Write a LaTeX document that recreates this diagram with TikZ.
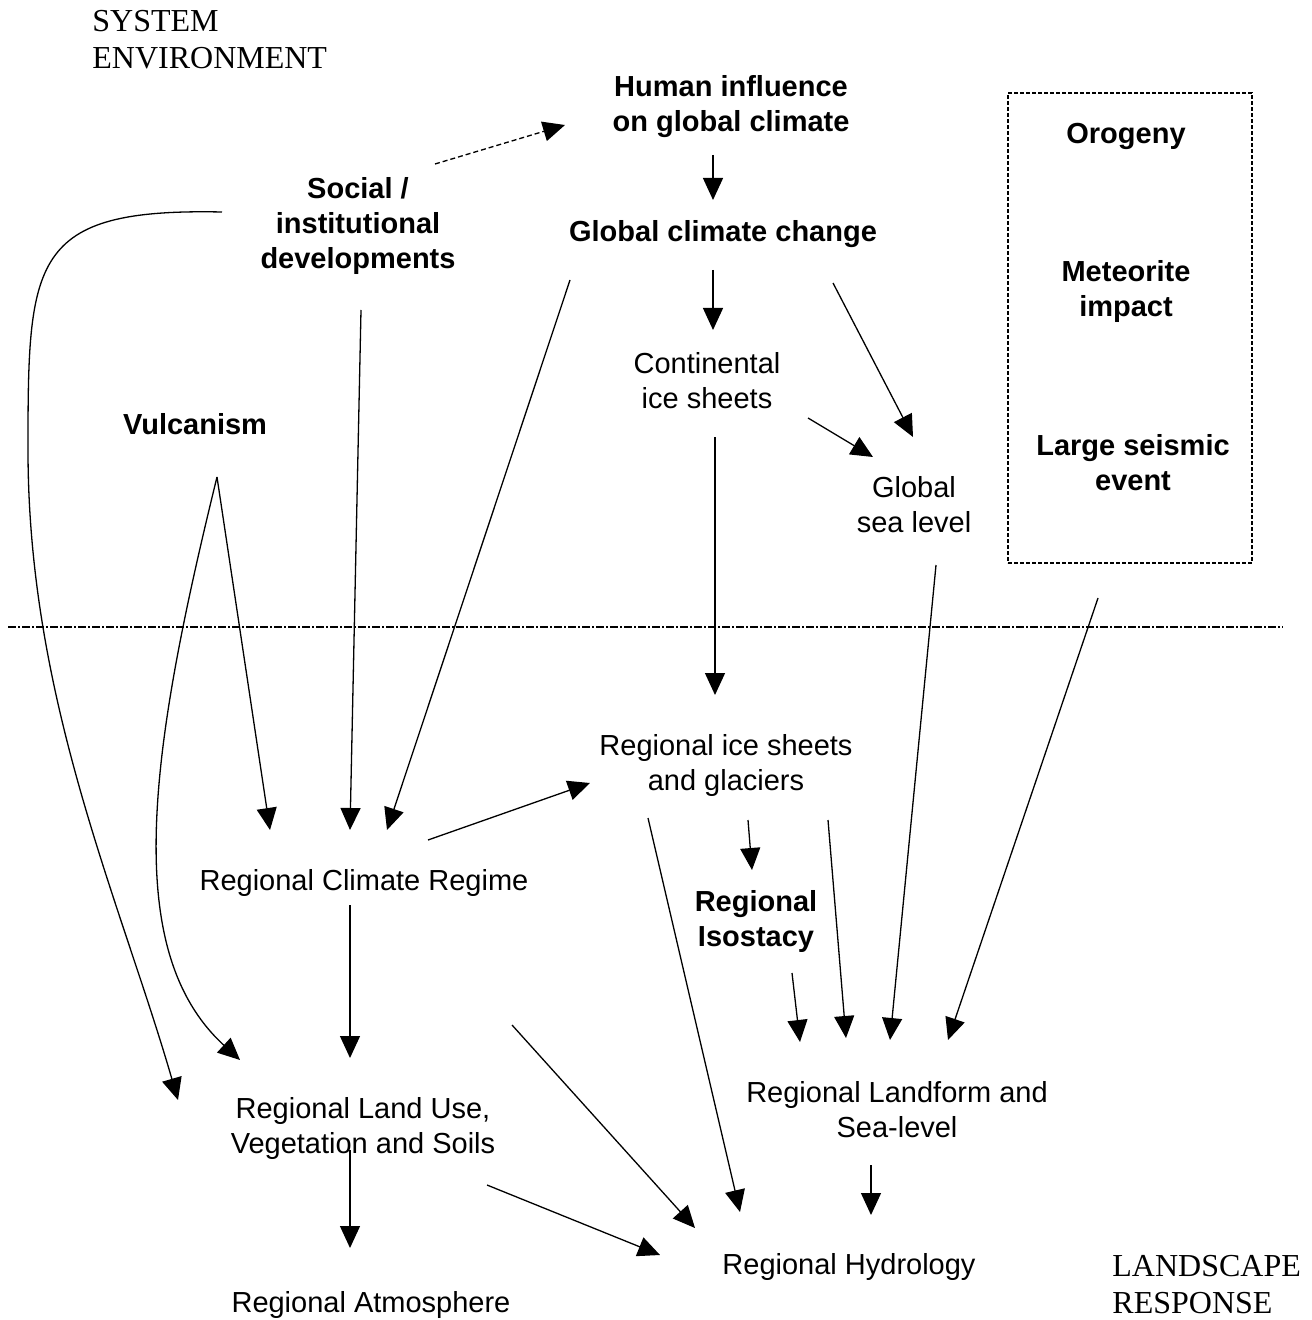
\documentclass[tikz,border=0pt]{standalone}
\usepackage{fontspec}
\setmainfont{Liberation Sans}
\newfontfamily\tnr{Liberation Serif}
\usetikzlibrary{arrows.meta,calc}
\tikzset{
  lbl/.style={align=center, inner sep=0pt, yshift=-1.5pt, font=\fontsize{14.5}{17.5}\selectfont},
  hdr/.style={lbl, font=\fontsize{14.5}{17.5}\selectfont\bfseries},
  corner/.style={align=left, inner sep=0pt, font=\fontsize{16}{18.5}\selectfont\tnr},
  arr/.style={-{Triangle[length=11pt,width=10pt]}, line width=0.65pt},
}
\begin{document}
\begin{tikzpicture}[x=0.5pt,y=-0.5pt]
      \useasboundingbox (0,0) rectangle (1311,1320);
      \node[corner,anchor=west] (sys) at (92,40) {SYSTEM\\ENVIRONMENT};
      \node[corner,anchor=west] (lsr) at (1112,1285) {LANDSCAPE\\RESPONSE};
      \node[hdr] (hum) at (731,104) {Human influence\\on global climate};
      \node[hdr] (gcc) at (723,231) {Global climate change};
      \node[hdr] (soc) at (358,223) {Social /\\institutional\\developments};
      \node[hdr] (vul) at (195,421) {Vulcanism};
      \node[lbl] (cis) at (707,378) {Continental\\ice sheets};
      \node[lbl] (gsl) at (914,502) {Global\\sea level};
      \node[draw, dash pattern=on 2pt off 1pt, line width=0.6pt,
            minimum width=122pt, minimum height=235pt] (box) at (1130,328) {};
      \node[hdr] (oro) at (1126,133) {Orogeny};
      \node[hdr] (met) at (1126,289) {Meteorite\\impact};
      \node[hdr] (seis) at (1133,460) {Large seismic\\event};
      \draw[line width=0.6pt, dash pattern=on 4pt off 1pt on 1pt off 1pt] (8,627) -- (1283,627);
      \node[lbl] (ris) at (726,762) {Regional ice sheets\\and glaciers};
      \node[lbl] (rcr) at (364,880) {Regional Climate Regime};
      \node[hdr] (iso) at (756,918) {Regional\\Isostacy};
      \node[lbl] (rlu) at (363,1125) {Regional Land Use,\\Vegetation and Soils};
      \node[lbl] (rlf) at (897,1107) {Regional Landform and\\Sea-level};
      \node[lbl] (atm) at (371,1302) {Regional Atmosphere};
      \node[lbl] (hyd) at (849,1264) {Regional Hydrology};
      \begin{scope}[arr]
        \draw[dash pattern=on 2.5pt off 1.5pt] ($(soc)+(77,-62)$) -- ($(hum)+(-166,18)$);
        \draw ($(hum)+(-18,48)$) -- ($(gcc)+(-10,-34)$);
        \draw ($(gcc)+(-10,36)$) -- ($(cis)+(6,-51)$);
        \draw ($(gcc)+(110,49)$) -- ($(gsl)+(-1,-68)$);
        \draw ($(cis)+(101,37)$) -- ($(gsl)+(-41,-48)$);
        \draw ($(cis)+(8,56)$) -- ($(ris)+(-11,-70)$);
        \draw ($(gcc)+(-153,46)$) -- ($(rcr)+(23,-53)$);
        \draw ($(soc)+(3,84)$) -- ($(rcr)+(-14,-53)$);
        \draw ($(soc)+(-136,-14)$) .. controls (30,208) and (28,260) .. (28,450)
              .. controls (28,700) and (120,900) .. ($(rlu)+(-185,-28)$);
        \draw ($(vul)+(22,53)$) .. controls (150,750) and (120,950) .. ($(rlu)+(-123,-68)$);
        \draw ($(vul)+(22,53)$) -- ($(rcr)+(-94,-53)$);
        \draw ($(rcr)+(-14,22)$) -- ($(rlu)+(-13,-70)$);
        \draw ($(rcr)+(64,-43)$) -- ($(ris)+(-136,18)$);
        \draw ($(rcr)+(148,142)$) -- ($(hyd)+(-154,-39)$);
        \draw ($(rlu)+(124,57)$) -- ($(hyd)+(-189,-12)$);
        \draw ($(rlu)+(-13,22)$) -- ($(atm)+(-21,-57)$);
        \draw ($(ris)+(-78,53)$) -- ($(hyd)+(-109,-55)$);
        \draw ($(ris)+(22,55)$) -- ($(iso)+(-4,-51)$);
        \draw ($(ris)+(102,55)$) -- ($(rlf)+(-51,-72)$);
        \draw ($(iso)+(36,52)$) -- ($(rlf)+(-97,-68)$);
        \draw ($(gsl)+(22,60)$) -- ($(rlf)+(-7,-70)$);
        \draw ($(box)+(-32,270)$) -- ($(rlf)+(51,-70)$);
        \draw ($(rlf)+(-26,55)$) -- ($(hyd)+(22,-52)$);
      \end{scope}
    \end{tikzpicture}
\end{document}
